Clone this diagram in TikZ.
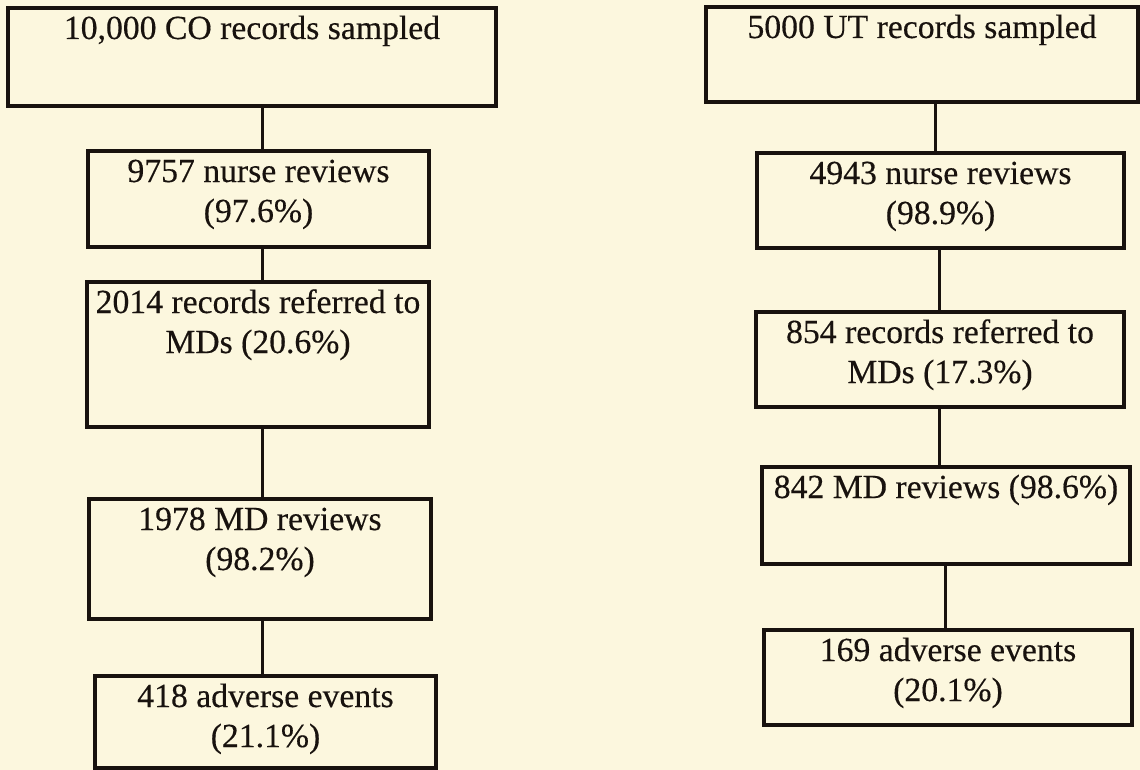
\documentclass[tikz,border=0pt]{standalone}
\usepackage{fontspec}
\setmainfont{Liberation Serif}[FakeBold=0.35]
\definecolor{bg}{RGB}{252,247,222}
\definecolor{ink}{RGB}{24,18,14}
\newcommand{\boxtext}[3]{\parbox[c][#2][t]{#1}{\centering\rule{0pt}{31pt}#3\par}}
\tikzset{
  flowbox/.style={draw=ink, text=ink, line width=3.4pt, inner sep=0pt, outer sep=0pt,
    anchor=north west, font=\fontsize{33.7}{40}\selectfont},
  conn/.style={draw=ink, line width=3pt}
}
\begin{document}
\begin{tikzpicture}[x=1pt,y=-1pt]
\fill[bg] (0,0) rectangle (1140,770);
\useasboundingbox (0,0) rectangle (1140,770);
% left column
\node[flowbox] (L1) at (8,8)   {\boxtext{488pt}{98pt}{10,000 CO records sampled}};
\node[flowbox] (L2) at (88,151) {\boxtext{341pt}{96pt}{9757 nurse reviews\\(97.6\%)}};
\node[flowbox] (L3) at (87,282) {\boxtext{342pt}{145pt}{2014 records referred to\\MDs (20.6\%)}};
\node[flowbox] (L4) at (89,499) {\boxtext{342pt}{120pt}{1978 MD reviews\\(98.2\%)}};
\node[flowbox] (L5) at (95,676) {\boxtext{341pt}{92pt}{418 adverse events\\(21.1\%)}};
% right column
\node[flowbox] (R1) at (706,7)   {\boxtext{432pt}{95pt}{5000 UT records sampled}};
\node[flowbox] (R2) at (757,153) {\boxtext{367pt}{95pt}{4943 nurse reviews\\(98.9\%)}};
\node[flowbox] (R3) at (756,312) {\boxtext{368pt}{95pt}{854 records referred to\\MDs (17.3\%)}};
\node[flowbox] (R4) at (762,467) {\boxtext{368pt}{97pt}{842 MD reviews (98.6\%)}};
\node[flowbox] (R5) at (764,630) {\boxtext{368pt}{95pt}{169 adverse events\\(20.1\%)}};
% connectors left
\draw[conn] ([xshift=3.5pt]L2.north) -- ([xshift=3.5pt]L2.north |- L1.south);
\draw[conn] ([xshift=4pt]L3.north) -- ([xshift=4pt]L3.north |- L2.south);
\draw[conn] ([xshift=2pt]L4.north) -- ([xshift=2pt]L4.north |- L3.south);
\draw[conn] ([xshift=-3.5pt]L5.north) -- ([xshift=-3.5pt]L5.north |- L4.south);
% connectors right
\draw[conn] ([xshift=-5.5pt]R2.north) -- ([xshift=-5.5pt]R2.north |- R1.south);
\draw[conn] ([xshift=-1pt]R3.north) -- ([xshift=-1pt]R3.north |- R2.south);
\draw[conn] ([xshift=-7pt]R4.north) -- ([xshift=-7pt]R4.north |- R3.south);
\draw[conn] ([xshift=-3pt]R5.north) -- ([xshift=-3pt]R5.north |- R4.south);
\end{tikzpicture}
\end{document}
